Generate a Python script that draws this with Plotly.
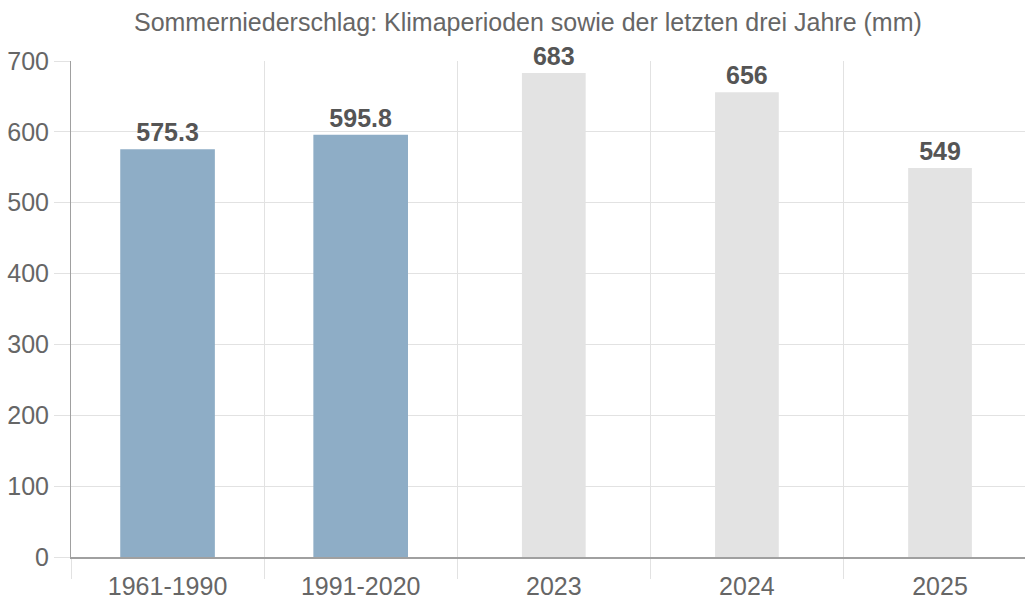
import plotly.graph_objects as go

categories = ["1961-1990", "1991-2020", "2023", "2024", "2025"]
values = [575.3, 595.8, 683, 656, 549]
labels = ["575.3", "595.8", "683", "656", "549"]
y_ticks = [0, 100, 200, 300, 400, 500, 600, 700]

bar_colors = ["#8eadc6", "#8eadc6", "#e3e3e3", "#e3e3e3", "#e3e3e3"]
bar_widths = [0.49, 0.49, 0.33, 0.33, 0.33]

fig = go.Figure(go.Bar(
    x=categories, y=values, text=labels,
    textposition="outside", cliponaxis=False,
    marker=dict(color=bar_colors, line=dict(width=0)),
    width=bar_widths,
    textfont=dict(family="Liberation Sans, Arial", size=25, color="#555555", weight="bold"),
    hoverinfo="skip",
))

fig.update_layout(
    width=1025, height=604,
    margin=dict(l=71, r=0, t=61, b=47, autoexpand=False),
    paper_bgcolor="white", plot_bgcolor="white",
    showlegend=False,
    font=dict(family="Liberation Sans, Arial", color="#666666"),
    title=dict(text="Sommerniederschlag: Klimaperioden sowie der letzten drei Jahre (mm)",
               x=0.515, xanchor="center", y=0.963, yanchor="middle",
               font=dict(size=25, color="#666666")),
    xaxis=dict(type="category", range=[-0.5, 4.44], tickson="boundaries",
               automargin=False,
               showgrid=True, gridcolor="#e2e2e2", gridwidth=1,
               ticks="outside", ticklen=20, tickcolor="#e2e2e2",
               ticklabelstandoff=6,
               showline=True, linecolor="#a0a0a0", linewidth=2,
               tickfont=dict(size=25, color="#666666")),
    yaxis=dict(range=[0, 700], tickvals=y_ticks, automargin=False,
               showgrid=True, gridcolor="#e2e2e2", gridwidth=1,
               ticks="outside", ticklen=16, tickcolor="#e2e2e2",
               showline=True, linecolor="#a0a0a0", linewidth=1,
               zeroline=False,
               tickfont=dict(size=25, color="#666666")),
)

fig.write_html("out.html", config={"displayModeBar": False},
               post_script="document.body.style.margin='0';document.body.style.overflow='hidden';")
